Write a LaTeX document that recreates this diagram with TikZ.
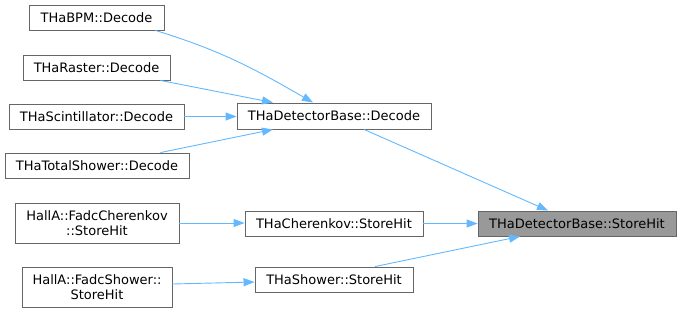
\documentclass[tikz,border=0pt]{standalone}
\usepackage{fontspec}
\setmainfont{DejaVu Sans}
\usetikzlibrary{arrows.meta}
\definecolor{edgeblue}{HTML}{63B8FF}
\definecolor{boxborder}{HTML}{666666}
\definecolor{focusfill}{HTML}{999999}
\begin{document}
\begin{tikzpicture}[x=1pt,y=-1pt,
  fn/.style={draw=boxborder, line width=0.9pt, fill=white, inner sep=0pt,
    align=center, font=\fontsize{13}{14.5}\selectfont, text=black},
  focus/.style={fn, fill=focusfill},
  calls/.style={draw=edgeblue, line width=0.9pt,
    -{Triangle[length=11pt,width=8pt]}}]
\useasboundingbox (0,0) rectangle (681,313);

% callers on the left
\node[fn, minimum width=135pt, minimum height=25pt] (bpm) at (96.5,17.5) {THaBPM::Decode};
\node[fn, minimum width=147pt, minimum height=25pt] (raster) at (96.5,67.5) {THaRaster::Decode};
\node[fn, minimum width=175pt, minimum height=25pt] (scint) at (96.5,116.5) {THaScintillator::Decode};
\node[fn, minimum width=184pt, minimum height=25pt] (total) at (97,165.5) {THaTotalShower::Decode};
\node[fn, minimum width=164pt, minimum height=40pt] (fcher) at (97,223) {HallA::FadcCherenkov\\::StoreHit};
\node[fn, minimum width=150pt, minimum height=40pt] (fshow) at (97,287) {HallA::FadcShower::\\StoreHit};

% middle column
\node[fn, minimum width=194pt, minimum height=26pt] (dbdecode) at (334,116) {THaDetectorBase::Decode};
\node[fn, minimum width=178pt, minimum height=25pt] (cher) at (334,223.5) {THaCherenkov::StoreHit};
\node[fn, minimum width=158pt, minimum height=25pt] (shower) at (334,279.5) {THaShower::StoreHit};

% function of interest
\node[focus, minimum width=198pt, minimum height=25pt] (dbstore) at (577,223.5) {THaDetectorBase::StoreHit};

% call edges
\draw[calls] ([xshift=-9pt]bpm.south east) to[out=-17, in=150] ([xshift=-21pt]dbdecode.north);
\draw[calls] ([xshift=-10pt]raster.south east) -- ([xshift=-61pt]dbdecode.north);
\draw[calls] (scint.east) -- (scint.east -| dbdecode.west);
\draw[calls] ([xshift=-29pt]total.north east) -- ([xshift=-61pt]dbdecode.south);
\draw[calls] ([xshift=30pt]dbdecode.south) -- ([xshift=-29pt]dbstore.north);
\draw[calls] (cher.east) -- (dbstore.west);
\draw[calls] ([xshift=41pt]shower.north) -- ([xshift=-57pt]dbstore.south);
\draw[calls] (fcher.east) -- (fcher.east -| cher.west);
\draw[calls] ([yshift=3pt]fshow.east) -- ([yshift=-2.5pt]shower.west);
\end{tikzpicture}
\end{document}
